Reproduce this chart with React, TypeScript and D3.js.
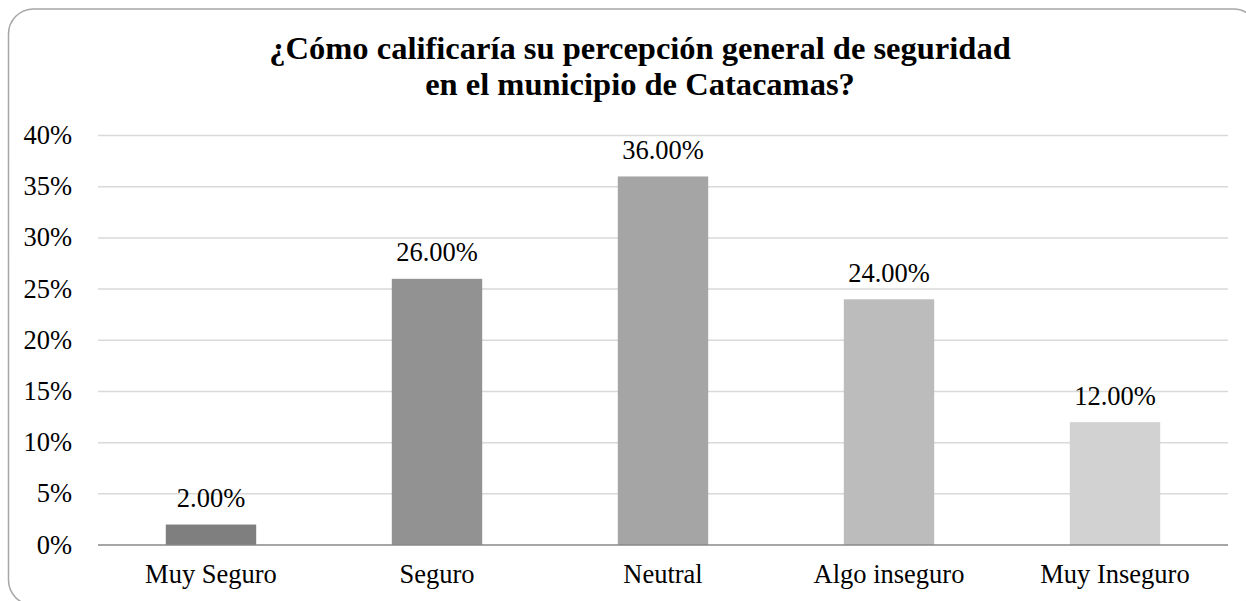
import React from "react";
import * as d3 from "d3";

const categories = ["Muy Seguro", "Seguro", "Neutral", "Algo inseguro", "Muy Inseguro"];
const values = [2, 26, 36, 24, 12];
const barColors = ["#7f7f7f", "#929292", "#a5a5a5", "#bcbcbc", "#d2d2d2"];
const yTicks = [0, 5, 10, 15, 20, 25, 30, 35, 40];
const titleLines = ["¿Cómo calificaría su percepción general de seguridad", "en el municipio de Catacamas?"];

const W = 1246;
const H = 601;
const left = 98;
const right = 1228;
const top = 135.5;
const bottom = 545;
const font = "'Liberation Serif', 'Times New Roman', serif";
const fs = 26.5;

export default function App() {
  const x = d3.scaleBand<string>().domain(categories).range([left, right]).paddingInner(0.6).paddingOuter(0.3);
  const y = d3.scaleLinear().domain([0, 40]).range([bottom, top]);
  return (
    <svg width={W} height={H} style={{ position: "absolute", left: 0, top: 0 }}>
      <rect x={0} y={0} width={W} height={H} fill="#fff" />
      <rect x={8.5} y={9} width={1250} height={596} rx={25} ry={25} fill="#fff" stroke="#a6a6a6" strokeWidth={1.5} />
      {titleLines.map((t, i) => (
        <text key={i} x={640} y={59 + i * 36} textAnchor="middle" fontFamily={font} fontWeight="bold" fontSize={32.5} fill="#000">
          {t}
        </text>
      ))}
      {yTicks.map((t) => (
        <g key={t}>
          {t !== 0 && <line x1={left} x2={right} y1={y(t)} y2={y(t)} stroke="#d9d9d9" strokeWidth={1.5} />}
          <text x={72} y={y(t) + 8.5} textAnchor="end" fontFamily={font} fontSize={fs} fill="#000">
            {t}%
          </text>
        </g>
      ))}
      {categories.map((c, i) => (
        <g key={c}>
          <rect x={x(c)!} y={y(values[i])} width={x.bandwidth()} height={bottom - y(values[i])} fill={barColors[i]} />
          <text x={x(c)! + x.bandwidth() / 2} y={y(values[i]) - 17.5} textAnchor="middle" fontFamily={font} fontSize={fs} fill="#000">
            {values[i].toFixed(2)}%
          </text>
          <text x={x(c)! + x.bandwidth() / 2} y={583} textAnchor="middle" fontFamily={font} fontSize={fs} fill="#000">
            {c}
          </text>
        </g>
      ))}
      <line x1={left} x2={right} y1={bottom} y2={bottom} stroke="#898989" strokeWidth={1.5} />
    </svg>
  );
}
